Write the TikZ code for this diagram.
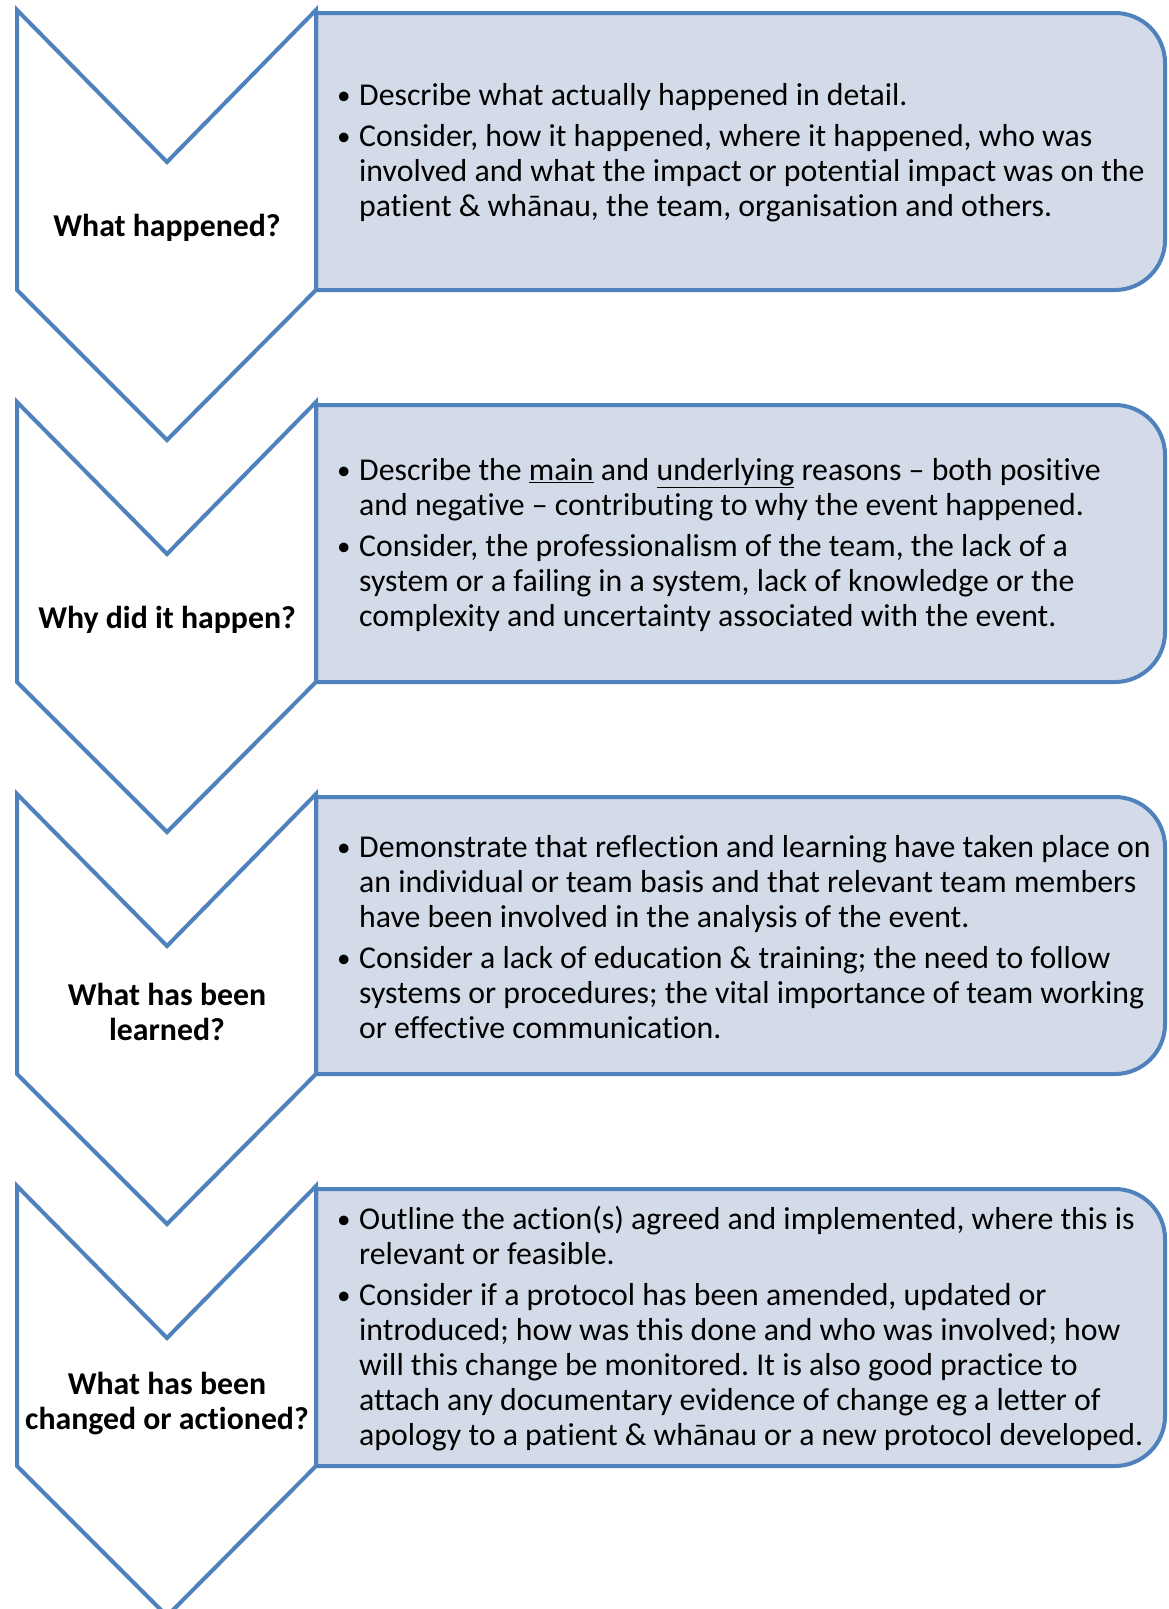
\documentclass[tikz,border=0pt]{standalone}
\usepackage{fontspec}
\setmainfont[Ligatures=NoCommon]{Carlito}
\frenchspacing
\definecolor{edgeblue}{HTML}{4F81BD}
\definecolor{boxfill}{HTML}{D3DBE9}
\newcommand\bl[1]{\makebox[22pt][l]{\raisebox{1pt}{\fontsize{27}{35}\selectfont •}}#1}
\newcommand\cl[1]{\hspace*{22pt}#1}
\newcommand\chevshape[1]{%
  \draw[shapeline,fill=white] (17,#1) -- (167,#1+152) -- (316,#1) -- (316,#1+280) -- (167,#1+430) -- (17,#1+280) -- cycle;}
\newcommand\boxshape[1]{%
  \draw[shapeline,fill=boxfill] (316,#1+3) -- (1115,#1+3) arc[start angle=90,end angle=0,radius=50pt] -- (1165,#1+230) arc[start angle=0,end angle=-90,radius=50pt] -- (316,#1+280) -- cycle;}
\begin{document}
\begin{tikzpicture}[x=1pt,y=-1pt,
  shapeline/.style={draw=edgeblue,line width=4pt,line join=miter},
  label/.style={font=\bfseries\fontsize{31.8}{35}\selectfont,align=center,inner sep=0pt},
  body/.style={font=\fontsize{31.8}{35}\selectfont,align=left,anchor=west,inner sep=0pt}]
\useasboundingbox (0,0) rectangle (1168,1609);
\begin{scope}
\clip (0,0) rectangle (1168,1609);
\boxshape{10}\boxshape{402}\boxshape{794}\boxshape{1186}
\chevshape{10}\chevshape{402}\chevshape{794}\chevshape{1186}
\end{scope}
\node[label] (l1) at (167,228) {What happened?};
\node[label] (l2) at (167,620) {Why did it happen?};
\node[label] (l3) at (167,1012) {What has been\\learned?};
\node[label] (l4) at (167,1404) {What has been\\changed or actioned?};
\node[body] (t1) at (337,153) {\bl{Describe what actually happened in detail.}\\[6pt]
\bl{Consider, how it happened, where it happened, who was}\\
\cl{involved and what the impact or potential impact was on the}\\
\cl{patient \& whānau, the team, organisation and others.}};
\node[body] (t2) at (337,545) {\bl{Describe the \underline{main} and \underline{underlying} reasons – both positive}\\
\cl{and negative – contributing to why the event happened.}\\[6pt]
\bl{Consider, the professionalism of the team, the lack of a}\\
\cl{system or a failing in a system, lack of knowledge or the}\\
\cl{complexity and uncertainty associated with the event.}};
\node[body] (t3) at (337,937) {\bl{Demonstrate that reflection and learning have taken place on}\\
\cl{an individual or team basis and that relevant team members}\\
\cl{have been involved in the analysis of the event.}\\[6pt]
\bl{Consider a lack of education \& training; the need to follow}\\
\cl{systems or procedures; the vital importance of team working}\\
\cl{or effective communication.}};
\node[body] (t4) at (337,1329) {\bl{Outline the action(s) agreed and implemented, where this is}\\
\cl{relevant or feasible.}\\[6pt]
\bl{Consider if a protocol has been amended, updated or}\\
\cl{introduced; how was this done and who was involved; how}\\
\cl{will this change be monitored. It is also good practice to}\\
\cl{attach any documentary evidence of change eg a letter of}\\
\cl{apology to a patient \& whānau or a new protocol developed.}};
\end{tikzpicture}
\end{document}
